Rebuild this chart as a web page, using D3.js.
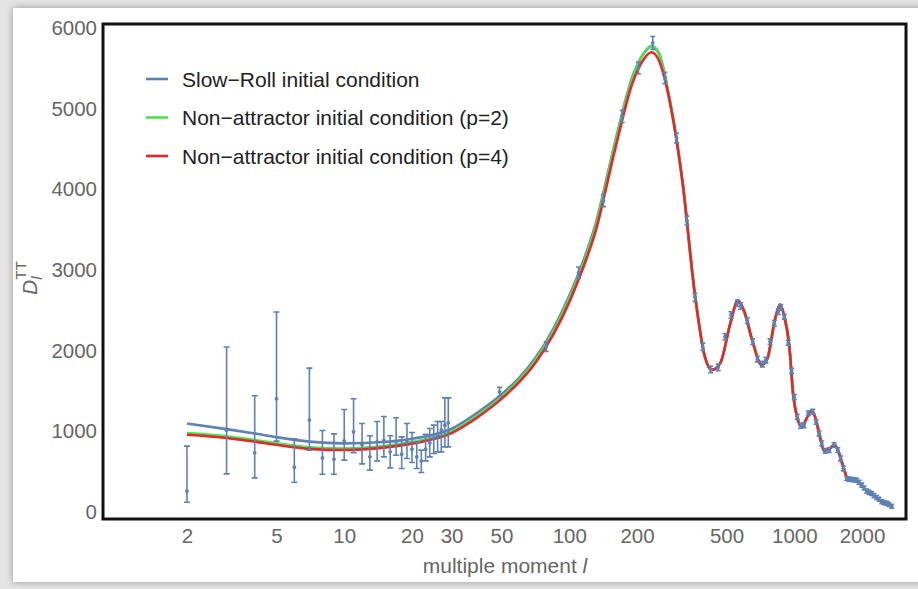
<!DOCTYPE html>
<html lang="en">
<head>
<meta charset="UTF-8">
<title>D_l^TT vs multiple moment</title>
<script src="https://d3js.org/d3.v7.min.js"></script>
<style>
  html, body { margin: 0; padding: 0; }
  body {
    width: 918px; height: 589px; overflow: hidden;
    background: #e4e4e4;
    font-family: "Liberation Sans", Arial, sans-serif;
  }
  .card {
    position: absolute; left: 13px; top: 8px; width: 930px; height: 574px;
    background: #fff;
    box-shadow: 0 0 7px rgba(0,0,0,0.35);
  }
  #chart { position: absolute; left: 0; top: 0; }
  .tick text { fill: #666; font-size: 20.5px; }
</style>
</head>
<body>
<div class="card"></div>
<div id="chart"></div>

<script>
// low-l points (unbinned), with asymmetric error bars
const lowL  = [2, 3, 4, 5, 6, 7, 8, 9, 10, 11, 12, 13, 14, 15, 16, 17, 18, 19, 20, 21, 22, 23, 24, 25, 26, 27, 28, 29];
const lowD  = [255, 1012, 731, 1401, 553, 1137, 668, 652, 880, 991, 834, 681, 867, 884, 743, 872, 714, 880, 776, 681, 631, 776, 855, 917, 950, 1012, 1074, 1103];
const lowLo = [118, 470, 420, 876, 366, 764, 466, 466, 640, 731, 594, 516, 631, 681, 544, 700, 536, 660, 611, 536, 487, 631, 681, 723, 743, 743, 805, 805];
const lowHi = [814, 2043, 1438, 2478, 905, 1782, 1008, 966, 1269, 1401, 1095, 942, 1120, 1182, 942, 1165, 929, 1095, 983, 867, 764, 962, 1033, 1074, 1120, 1120, 1413, 1413];

// binned points
const binL = [49, 79, 110, 142, 172, 203, 235, 266, 300, 333, 362, 392, 425, 459, 492, 523, 558, 578, 618, 653, 685, 721, 748, 780, 815, 849, 870, 903, 940, 973, 1000, 1031, 1067, 1105, 1154, 1208, 1250, 1289, 1325, 1371, 1430, 1503, 1560, 1607, 1652,
              1711, 1752, 1800, 1846, 1893, 1940, 1995, 2043, 2098, 2148, 2206, 2260, 2322, 2378, 2448, 2506, 2575, 2635, 2710];
const binD = [1488, 2047, 2965, 3860, 4903, 5504, 5815, 5380, 4635, 3612, 2660, 2047, 1766, 1791, 2171, 2441, 2586, 2552, 2370, 2109, 1894, 1832, 1882, 2109, 2337, 2481, 2536, 2419, 2097, 1749, 1426, 1177, 1066, 1074, 1220, 1240, 1115, 971, 847, 755, 764, 826, 764, 661, 537,
              412, 405, 400, 396, 390, 365, 330, 295, 258, 240, 226, 200, 176, 155, 125, 112, 105, 90, 68];
const binErr = [55, 60, 70, 75, 75, 75, 80, 70, 60, 55, 50, 45, 40, 40, 40, 40, 40, 40, 35, 35, 35, 35, 35, 35, 35, 35, 35, 30, 30, 30, 30, 30, 30, 30, 30, 30, 30, 30, 30, 30, 30, 30, 30, 30, 30,
                25, 25, 25, 25, 25, 25, 25, 25, 25, 25, 25, 25, 25, 25, 25, 25, 25, 25, 25];

// theory curves
const thL = [2, 3, 4, 5, 7, 10, 15, 20, 30, 40, 50, 60, 70, 85, 100, 115, 130, 160, 190, 215, 232, 250, 280, 320, 360, 400, 430, 470, 520, 562, 600, 650, 717, 760, 820, 865, 900, 950, 990, 1030, 1080, 1130, 1190, 1240, 1300, 1360, 1430, 1508, 1560, 1625, 1711];
const redD   = [955, 915, 870, 830, 780, 765, 795, 845, 975, 1190, 1400, 1610, 1830, 2200, 2600, 3020, 3450, 4500, 5300, 5620, 5700, 5600, 5080, 4050, 2740, 1930, 1760, 1850, 2340, 2620, 2480, 2130, 1820, 1900, 2380, 2570, 2440, 2060, 1440, 1170, 1050, 1150, 1250, 1170, 930, 750, 780, 830, 770, 620, 420];
const greenD = [975, 935, 890, 850, 800, 785, 815, 865, 995, 1215, 1425, 1640, 1865, 2240, 2650, 3070, 3510, 4570, 5370, 5690, 5770, 5680, 5100, 4050, 2740, 1930, 1760, 1850, 2340, 2620, 2480, 2130, 1820, 1900, 2380, 2570, 2440, 2060, 1440, 1170, 1050, 1150, 1250, 1170, 930, 750, 780, 830, 770, 620, 420];
const blueD  = [1095, 1025, 970, 925, 870, 848, 865, 905, 1030, 1250, 1455, 1665, 1890, 2270, 2680, 3100, 3540, 4590, 5380, 5690, 5775, 5690, 5100, 4050, 2740, 1930, 1760, 1850, 2340, 2620, 2480, 2130, 1820, 1900, 2380, 2570, 2440, 2060, 1440, 1170, 1050, 1150, 1250, 1170, 930, 750, 780, 830, 770, 620, 420];

const xTicks = [2, 5, 10, 20, 30, 50, 100, 200, 500, 1000, 2000];
const yTicks = [0, 1000, 2000, 3000, 4000, 5000, 6000];

const series = [
  {label: "Slow\u2212Roll initial condition", color: "#5e81b5", values: blueD},
  {label: "Non\u2212attractor initial condition (p=2)", color: "#49e449", values: greenD},
  {label: "Non\u2212attractor initial condition (p=4)", color: "#e8262a", values: redD}
];

const W = 918, H = 589;
const frame = {left: 103, right: 906, top: 24, bottom: 519};
const dataBlue = "#5e81b5";

const svg = d3.select("#chart").append("svg")
  .attr("width", W).attr("height", H);

const x = d3.scaleLog()
  .domain([0.847, 3137])
  .range([frame.left, frame.right]);

const y = d3.scaleLinear()
  .domain([-90, 6050])
  .range([frame.bottom, frame.top]);

// curves
const line = d3.line()
  .x(d => x(d[0]))
  .y(d => y(d[1]))
  .curve(d3.curveMonotoneX);

svg.append("g").selectAll("path")
  .data(series)
  .join("path")
    .attr("fill", "none")
    .attr("stroke", d => d.color)
    .attr("stroke-width", 2.6)
    .attr("d", d => line(thL.map((l, i) => [l, d.values[i]])));

// error bars
const low = lowL.map((l, i) => ({l, d: lowD[i], lo: lowLo[i], hi: lowHi[i], cap: 3}));
const bins = binL.map((l, i) => ({l, d: binD[i], lo: binD[i] - binErr[i], hi: binD[i] + binErr[i], cap: 2.5}));
const pts = low.concat(bins);

const eb = svg.append("g")
  .attr("stroke", dataBlue)
  .attr("stroke-width", 1.6)
  .attr("fill", "none");

eb.selectAll(".bar")
  .data(pts)
  .join("path")
    .attr("class", "bar")
    .attr("d", d => {
      const cx = x(d.l), y0 = y(d.lo), y1 = y(d.hi);
      return `M${cx},${y0}V${y1}M${cx - d.cap},${y0}H${cx + d.cap}M${cx - d.cap},${y1}H${cx + d.cap}`;
    });

svg.append("g").selectAll("circle")
  .data(pts)
  .join("circle")
    .attr("cx", d => x(d.l))
    .attr("cy", d => y(d.d))
    .attr("r", 1.9)
    .attr("fill", dataBlue);

// frame
svg.append("rect")
  .attr("x", frame.left).attr("y", frame.top)
  .attr("width", frame.right - frame.left)
  .attr("height", frame.bottom - frame.top)
  .attr("fill", "none")
  .attr("stroke", "#111")
  .attr("stroke-width", 3);

// axes (labels only, no tick marks)
const xAxis = svg.append("g")
  .attr("transform", `translate(0,${frame.bottom})`)
  .call(d3.axisBottom(x).tickValues(xTicks).tickFormat(d3.format("d")).tickSize(0).tickPadding(9));
xAxis.select(".domain").remove();

const yAxis = svg.append("g")
  .attr("transform", `translate(${frame.left},0)`)
  .call(d3.axisLeft(y).tickValues(yTicks).tickFormat(d3.format("d")).tickSize(0).tickPadding(6));
yAxis.select(".domain").remove();

svg.selectAll(".tick text")
  .attr("font-family", "Liberation Sans, Arial, sans-serif")
  .attr("font-size", "20.5px");

// axis titles
const xt = svg.append("text")
  .attr("x", 505).attr("y", 573)
  .attr("text-anchor", "middle")
  .attr("fill", "#666")
  .style("font-size", "21px");
xt.append("tspan").text("multiple moment ");
xt.append("tspan").attr("font-style", "italic").text("l");

const yt = svg.append("text")
  .attr("transform", "translate(37,295) rotate(-90)")
  .attr("fill", "#666")
  .style("font-size", "21px");
yt.append("tspan").attr("font-style", "italic").text("D");
yt.append("tspan").attr("font-style", "italic").attr("dy", 5).style("font-size", "15px").text("l");
yt.append("tspan").attr("dx", -3).attr("dy", -16).style("font-size", "15px").text("TT");

// legend
const legend = svg.append("g")
  .attr("transform", "translate(146,79)");

const rows = legend.selectAll("g")
  .data(series)
  .join("g")
    .attr("transform", (d, i) => `translate(0,${i * 38.5})`);

rows.append("line")
  .attr("x1", 0).attr("x2", 22)
  .attr("stroke", d => d.color)
  .attr("stroke-width", 2.6);

rows.append("text")
  .attr("x", 36).attr("y", 7.5)
  .attr("fill", "#222")
  .style("font-size", "21px")
  .text(d => d.label);
</script>
</body>
</html>
